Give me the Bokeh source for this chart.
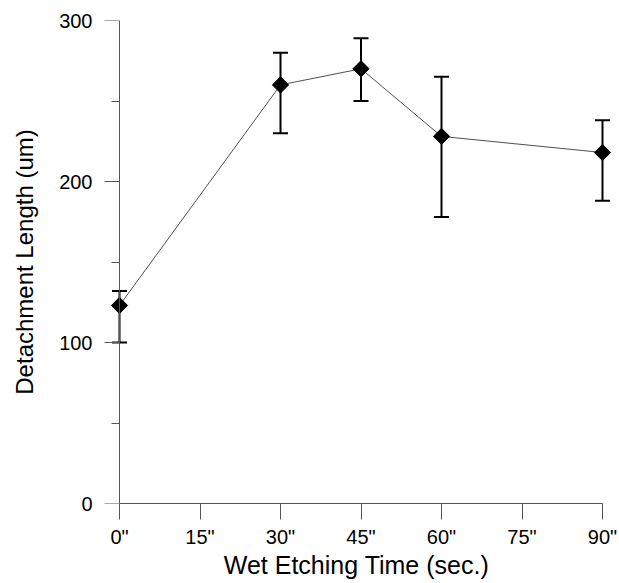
import numpy as np
from bokeh.plotting import figure
from bokeh.models import ColumnDataSource, Range1d, FixedTicker, Whisker, TeeHead, LinearAxis
from bokeh.embed import file_html
from bokeh.resources import INLINE

# data
times = [0, 30, 45, 60, 90]
lengths = [123, 260, 270, 228, 218]
upper = [132, 280, 289, 265, 238]
lower = [100, 230, 250, 178, 188]
x_ticks = [0, 15, 30, 45, 60, 75, 90]
x_labels = ['0"', '15"', '30"', '45"', '60"', '75"', '90"']
y_ticks = [0, 100, 200, 300]
y_minor = [50, 150, 250]

src = ColumnDataSource(dict(x=times, y=lengths, upper=upper, lower=lower))

FONT = "Liberation Sans"
AX = "#555555"

FRAME_W, FRAME_H = 510, 483
PPU = 483 / 90.0           # pixels per x unit
PAD_L, PAD_R = 18, 9       # frame padding around the x data span (px)

p = figure(frame_width=FRAME_W, frame_height=FRAME_H, output_backend="svg", toolbar_location=None,
           x_range=Range1d(-PAD_L / PPU, 90 + PAD_R / PPU), y_range=Range1d(0, 300),
           min_border_left=101, min_border_right=6, min_border_top=20, min_border_bottom=62)
p.outline_line_color = None
p.grid.visible = False
p.background_fill_color = "white"
p.border_fill_color = "white"

p.line("x", "y", source=src, line_color="#505050", line_width=1)

w = Whisker(base="x", upper="upper", lower="lower", source=src,
            line_color="black", line_width=2,
            upper_head=TeeHead(size=15, line_width=2, line_color="black"),
            lower_head=TeeHead(size=15, line_width=2, line_color="black"))
p.add_layout(w)

p.scatter("x", "y", source=src, marker="square", angle=np.pi / 4, size=11.5,
          fill_color="black", line_color="black")

# x axis (normal, bottom)
xa = p.xaxis[0]
xa.ticker = FixedTicker(ticks=x_ticks)
xa.major_label_overrides = {t: l for t, l in zip(x_ticks, x_labels)}
xa.bounds = (0, 90)
xa.major_tick_out = 16
xa.major_tick_in = 0
xa.minor_tick_out = 0
xa.minor_tick_in = 0
xa.axis_label = "Wet Etching Time (sec.)"
xa.axis_line_color = AX
xa.major_tick_line_color = AX
xa.major_label_standoff = 6
xa.axis_label_standoff = 0

# y axis tick labels (left panel) - labels only
ya = p.yaxis[0]
ya.ticker = FixedTicker(ticks=y_ticks, minor_ticks=y_minor)
ya.axis_line_color = None
ya.major_tick_line_color = None
ya.minor_tick_line_color = None
ya.major_tick_out = 0
ya.major_tick_in = 0
ya.minor_tick_out = 0
ya.minor_tick_in = 0
ya.major_label_standoff = 9

# y axis title (left panel, outside the tick labels), centred a little above the frame centre
ya3 = LinearAxis(ticker=FixedTicker(ticks=[]), bounds=(8.7, 300),
                 axis_line_color=None, major_tick_line_color=None, minor_tick_line_color=None,
                 major_tick_out=0, major_tick_in=0, minor_tick_out=0, minor_tick_in=0,
                 major_label_standoff=0,
                 axis_label="Detachment Length (um)", axis_label_standoff=19)
p.add_layout(ya3, "left")

# y axis line and ticks at x = 0
ya2 = LinearAxis(fixed_location=0, ticker=FixedTicker(ticks=y_ticks, minor_ticks=y_minor),
                 major_label_overrides={t: "" for t in y_ticks},
                 major_label_standoff=0,
                 major_tick_in=15, major_tick_out=0, minor_tick_in=8, minor_tick_out=0,
                 axis_line_color=AX, major_tick_line_color=AX, minor_tick_line_color=AX)
p.add_layout(ya2, "right")

for ax in (xa, ya, ya3):
    ax.major_label_text_font = FONT
    ax.major_label_text_font_size = "20px"
    ax.major_label_text_color = "black"
    ax.axis_label_text_font = FONT
    ax.axis_label_text_font_size = "24px"
    ax.axis_label_text_font_style = "normal"
    ax.axis_label_text_color = "black"
xa.axis_label_text_font_size = "25px"

open("out.html", "w").write(file_html(p, INLINE))
